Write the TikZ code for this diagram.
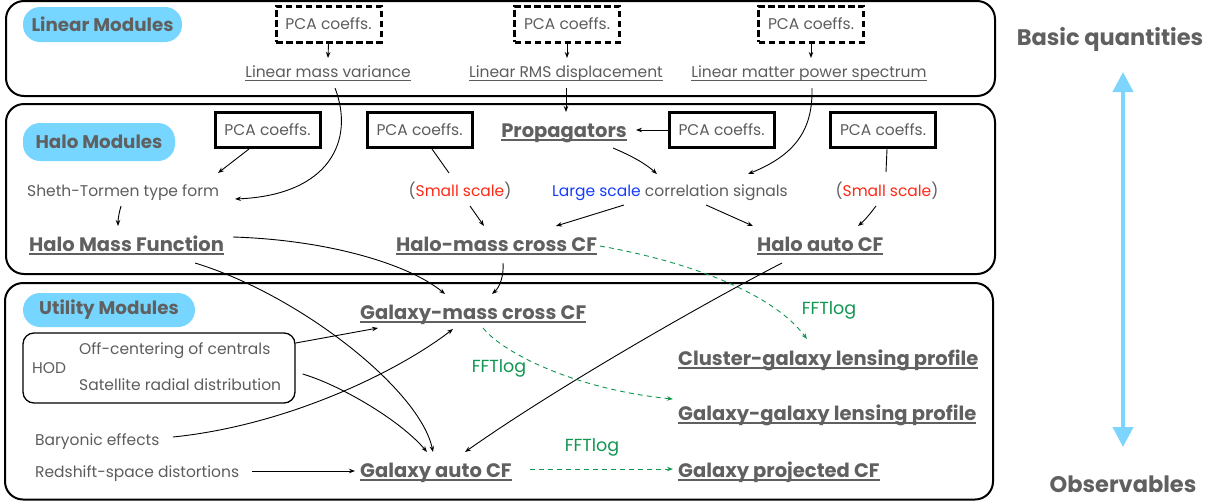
\documentclass[tikz,border=0pt]{standalone}
\usepackage{fontspec}
\setmainfont{Poppins}
\usetikzlibrary{arrows.meta,calc}
\definecolor{tgray}{RGB}{92,92,92}
\definecolor{hgray}{RGB}{96,96,96}
\definecolor{pillblue}{RGB}{118,214,255}
\definecolor{arrblue}{RGB}{125,212,252}
\definecolor{sred}{RGB}{255,40,20}
\definecolor{lblue}{RGB}{20,60,255}
\definecolor{fgreen}{RGB}{16,150,80}
\newcommand\ulbold[1]{\setbox0\hbox{#1}\rlap{\rule[-4pt]{\wd0}{2pt}}\box0}
\newcommand\ullight[1]{\setbox0\hbox{#1}\rlap{\rule[-4pt]{\wd0}{1pt}}\box0}
\tikzset{
  modframe/.style={line width=2pt, rounded corners=18pt},
  pill/.style={fill=pillblue, rounded corners=17pt, text=hgray, inner sep=0pt,
    font=\fontsize{18.3}{21}\selectfont\bfseries},
  pcad/.style={draw, line width=3pt, dash pattern=on 6.5pt off 3.5pt, inner sep=0pt,
    minimum width=105pt, minimum height=36pt, text=tgray, font=\fontsize{15.5}{18}\selectfont},
  pcas/.style={draw, line width=3pt, inner sep=0pt,
    minimum width=105pt, minimum height=35pt, text=tgray, font=\fontsize{15.5}{18}\selectfont},
  txt/.style={inner sep=0pt, text=tgray, font=\fontsize{15.5}{18}\selectfont},
  hd/.style={inner sep=0pt, text=hgray, font=\fontsize{19.5}{22}\selectfont\bfseries},
  fft/.style={inner sep=0pt, text=fgreen, font=\fontsize{17.5}{20}\selectfont},
  arr/.style={-{Stealth[length=6pt,width=4.5pt]}, line width=0.9pt},
  ln/.style={line width=0.9pt},
  garr/.style={-{Stealth[length=6pt,width=4.5pt]}, line width=0.9pt, fgreen, dash pattern=on 5pt off 4pt},
  bigarr/.style={{Triangle[length=20pt,width=20pt]}-{Triangle[length=20pt,width=20pt]}, line width=4pt, arrblue},
  hodbox/.style={draw, line width=1.3pt, rounded corners=11pt, minimum width=272pt, minimum height=70pt, inner sep=0pt}
}
\begin{document}
\begin{tikzpicture}[x=1pt,y=-1pt]
\useasboundingbox (0,0) rectangle (1218,501);
% module frames
\draw[modframe] (6,1) rectangle (995,96);
\draw[modframe] (6,104) rectangle (995,274);
\draw[modframe] (5,283) rectangle (993,499.5);
% pills
\node[pill, minimum width=159pt, minimum height=35pt] (pl1) at (102.5,24.5) {Linear Modules};
\node[pill, minimum width=152pt, minimum height=38pt] (pl2) at (99,142) {Halo Modules};
\node[pill, minimum width=172pt, minimum height=34pt] (pl3) at (109,310) {Utility Modules};
% linear module
\node[pcad] (pd1) at (328.5,24) {PCA coeffs.};
\node[pcad] (pd2) at (567,24) {PCA coeffs.};
\node[pcad] (pd3) at (811,24) {PCA coeffs.};
\node[txt, anchor=base] (lmv) at (328,77) {\ullight{Linear mass variance}};
\node[txt, anchor=base] (lrms) at (566,77) {\ullight{Linear RMS displacement}};
\node[txt, anchor=base] (lmps) at (809,77) {\ullight{Linear matter power spectrum}};
% halo module
\node[pcas] (pcs1) at (267.5,130) {PCA coeffs.};
\node[pcas] (pcs2) at (419.5,130) {PCA coeffs.};
\node[pcas] (pcs3) at (721.5,130) {PCA coeffs.};
\node[pcas] (pcs4) at (883,130) {PCA coeffs.};
\node[hd, anchor=base] (prop) at (564,137) {\ulbold{Propagators}};
\node[txt, anchor=base west] (st) at (27,196) {Sheth-Tormen type form};
\node[hd, anchor=base west] (hmf) at (29,251) {\ulbold{Halo Mass Function}};
\node[txt, anchor=base] (smL) at (460,196) {(\textcolor{sred}{Small scale})};
\node[txt, anchor=base west] (lsc) at (552,196) {\textcolor{lblue}{Large scale} correlation signals};
\node[txt, anchor=base] (smR) at (887,196) {(\textcolor{sred}{Small scale})};
\node[hd, anchor=base west] (hmc) at (396,251) {\ulbold{Halo-mass cross CF}};
\node[hd, anchor=base west] (hac) at (757,251) {\ulbold{Halo auto CF}};
% utility module
\node[hd, anchor=base west] (gmc) at (360,319) {\ulbold{Galaxy-mass cross CF}};
\node[hodbox] (hodb) at (159,368) {};
\node[txt, anchor=base west] (hod) at (32,373) {HOD};
\node[txt, anchor=base west] (off) at (79,354) {Off-centering of centrals};
\node[txt, anchor=base west] (sat) at (79,390) {Satellite radial distribution};
\node[txt, anchor=base west] (bary) at (35,445) {Baryonic effects};
\node[txt, anchor=base west] (rsd) at (35,477) {Redshift-space distortions};
\node[hd, anchor=base west] (gac) at (360,477) {\ulbold{Galaxy auto CF}};
\node[hd, anchor=base west] (gpc) at (678,477) {\ulbold{Galaxy projected CF}};
\node[hd, anchor=base west] (ggl) at (678,420) {\ulbold{Galaxy-galaxy lensing profile}};
\node[hd, anchor=base west] (cgl) at (678,365) {\ulbold{Cluster-galaxy lensing profile}};
\node[fft] (f1) at (829,310) {FFTlog};
\node[fft] (f2) at (499,368) {FFTlog};
\node[fft] (f3) at (592,447) {FFTlog};
% right side
\node[hd, anchor=base, font=\fontsize{22.5}{26}\selectfont\bfseries] (bq) at (1110,45) {Basic quantities};
\node[hd, anchor=base, font=\fontsize{22.5}{26}\selectfont\bfseries] (obs) at (1123,492) {Observables};
\draw[bigarr] ($(bq.base)+(13,27)$) -- ($(obs.base)+(0,-45)$);
% connectors
\draw[arr] (pd1.south) -- ($(lmv.base)+(0,-19)$);
\draw[arr] (pd2.south) -- ($(lrms.base)+(1,-19)$);
\draw[arr] (pd3.south) -- ($(lmps.base)+(2,-19)$);
\draw[arr] ($(lmv.base)+(7,11)$) .. controls (355,140) and (330,195) .. ($(st.base west)+(208,3)$);
\draw[arr] ($(lrms.base)+(0,11)$) -- ($(prop.base)+(2,-25)$);
\draw[arr] ($(lmps.base)+(3,11)$) .. controls (813,130) and (795,155) .. ($(lsc.base west)+(196,-22)$);
\draw[arr] ($(pcs1.south)+(-18.5,0)$) -- ($(st.base west)+(191,-23)$);
\draw[arr] ($(st.base west)+(94,10)$) .. controls (119,213) and (118,219) .. ($(hmf.base west)+(89,-25)$);
\draw[ln] ($(pcs2.south)+(12.5,0)$) -- ($(smL.base)+(-11,-23)$);
\draw[arr] ($(smL.base)+(10,10)$) -- ($(hmc.base west)+(88,-25)$);
\draw[arr] ($(prop.base)+(49,11)$) .. controls (632,156) and (646,164) .. ($(lsc.base west)+(105,-22)$);
\draw[arr] (pcs3.west) -- ($(prop.base)+(72,-7)$);
\draw[arr] ($(lsc.base west)+(72,9)$) -- ($(hmc.base west)+(160,-25)$);
\draw[arr] ($(lsc.base west)+(154,9)$) -- ($(hac.base west)+(-4,-25)$);
\draw[ln] ($(pcs4.south)+(4,0)$) -- ($(smR.base)+(-1,-24)$);
\draw[arr] ($(smR.base)+(-11,10)$) .. controls (870,214) and (864,221) .. ($(hac.base west)+(101,-25)$);
\draw[arr] ($(hmf.base west)+(204,-14)$) .. controls (330,240) and (410,265) .. ($(gmc.base west)+(85,-25)$);
\draw[arr] ($(hmf.base west)+(166,12)$) .. controls (300,295) and (420,390) .. ($(gac.base west)+(73,-25)$);
\draw[arr] ($(hmc.base west)+(107,12)$) .. controls (504,275) and (500,287) .. ($(gmc.base west)+(132,-25)$);
\draw[garr] ($(hmc.base west)+(204,-5)$) .. controls (680,260) and (770,290) .. ($(cgl.base west)+(129,-26)$);
\draw[arr] ($(hac.base west)+(25,12)$) .. controls (710,300) and (560,385) .. ($(gac.base west)+(105,-25)$);
\draw[arr] ($(hodb.east)+(0,-25)$) -- ($(gmc.base west)+(18,9)$);
\draw[arr] ($(hodb.east)+(7,6)$) .. controls (340,385) and (400,420) .. ($(gac.base west)+(67,-25)$);
\draw[arr] ($(bary.base west)+(138,-8)$) .. controls (290,425) and (400,370) .. ($(gmc.base west)+(93,10)$);
\draw[arr] ($(rsd.base west)+(217,-6)$) -- ($(gac.base west)+(-5,-6)$);
\draw[garr] ($(gmc.base west)+(123,9)$) .. controls (505,355) and (580,390) .. ($(ggl.base west)+(-5,-21)$);
\draw[garr] ($(gac.base west)+(170,-8)$) -- ($(gpc.base west)+(-5,-8)$);
\end{tikzpicture}
\end{document}
